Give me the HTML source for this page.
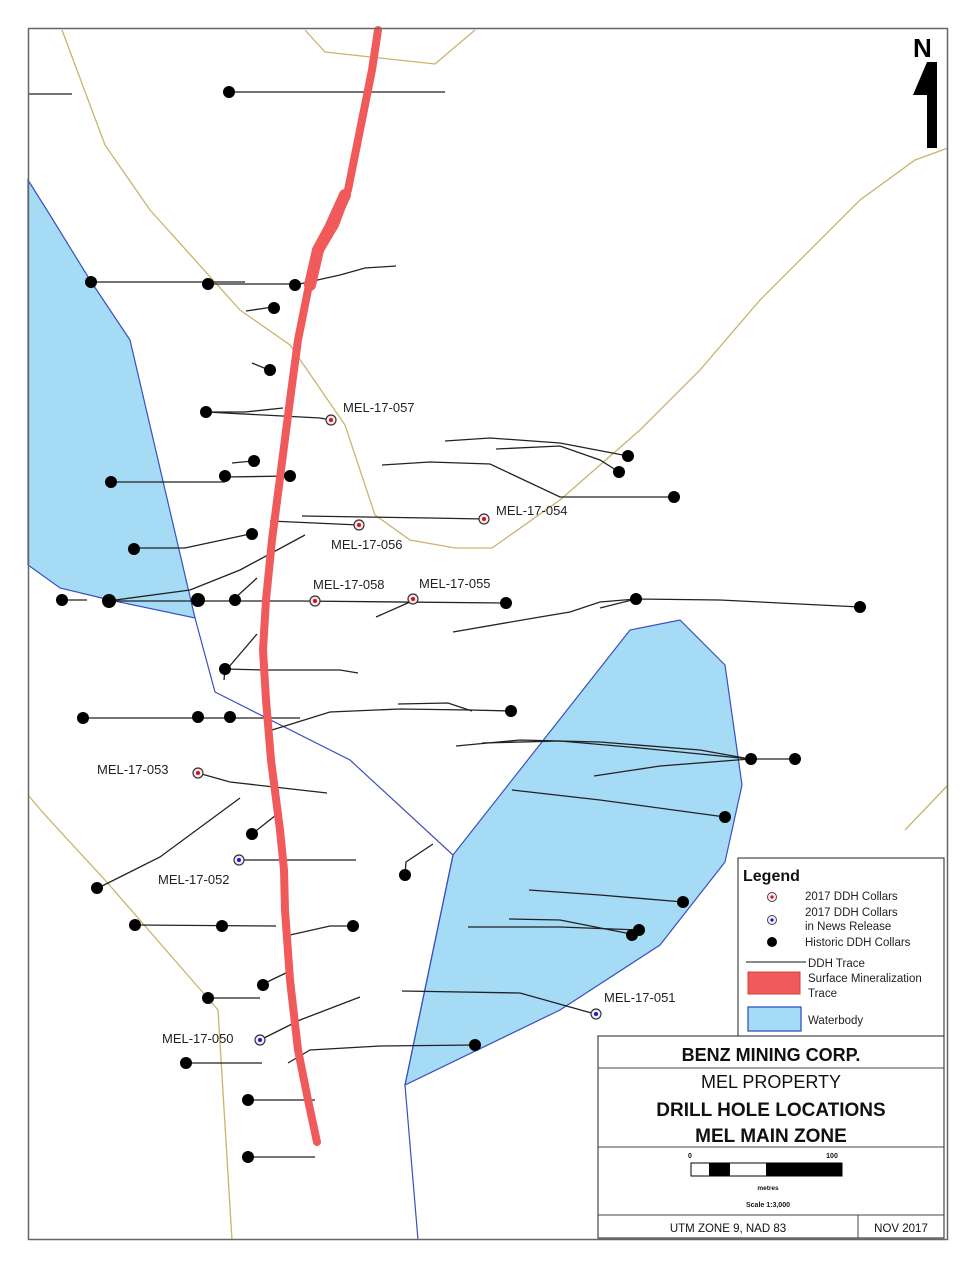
<!DOCTYPE html>
<html><head><meta charset="utf-8"><style>
html,body{margin:0;padding:0;background:#fff;}
svg{display:block;}
text{font-family:"Liberation Sans",sans-serif;}
</style></head><body>
<svg width="980" height="1268" viewBox="0 0 980 1268" xmlns="http://www.w3.org/2000/svg">
<rect width="980" height="1268" fill="#fff"/>
<polygon points="28,180 50,215 90,280 130,340 195,618 110,600 60,588 28,565" fill="#a5dbf5" stroke="#3a4fc0" stroke-width="1.2"/>
<polygon points="453,855 630,630 680,620 725,665 742,785 725,862 660,945 560,1010 405,1085" fill="#a5dbf5" stroke="#3a4fc0" stroke-width="1.2"/>
<polyline points="195,618 215,692 350,760 453,855 405,1085 418,1240" fill="none" stroke="#3a4fc0" stroke-width="1.2"/>
<g fill="none" stroke="#c9b46a" stroke-width="1.3">
<polyline points="62,30 105,145 150,210 240,310 290,345 345,425 375,515 410,540 455,548 492,548 560,500 640,430 700,370 760,300 860,200 915,160 948,148"/>
<polyline points="305,30 325,52 435,64 475,30"/>
<polyline points="28,795 45,815 105,880 205,995 218,1010 232,1240"/>
<polyline points="905,830 948,785"/>
</g>
<g fill="none" stroke="#222" stroke-width="1.3">
<line x1="28" y1="94" x2="72" y2="94"/>
<line x1="229" y1="92" x2="445" y2="92"/>
<polyline points="91,282 245,282"/>
<polyline points="208,284 295,284"/>
<polyline points="295,285 340,275 365,268 396,266"/>
<line x1="246" y1="311" x2="273" y2="307"/>
<line x1="252" y1="363" x2="269" y2="370"/>
<polyline points="206,412 245,412 283,408"/>
<polyline points="206,412 320,418 331,420"/>
<line x1="232" y1="463" x2="253" y2="461"/>
<polyline points="111,482 225,482"/>
<polyline points="225,477 290,476"/>
<polyline points="134,548 185,548 250,534"/>
<polyline points="108,601 190,590 240,570 305,535"/>
<polyline points="108,601 225,601 300,601 505,603"/>
<line x1="62" y1="600" x2="87" y2="600"/>
<polyline points="234,599 257,578"/>
<polyline points="270,521 359,525"/>
<polyline points="302,516 430,518 484,519"/>
<line x1="376" y1="617" x2="410" y2="602"/>
<polyline points="445,441 490,438 560,443 628,456"/>
<polyline points="496,449 560,446 600,460 619,472"/>
<polyline points="382,465 430,462 490,464 560,497 673,497"/>
<polyline points="453,632 540,617 570,612 600,602 636,599 720,600 860,607"/>
<polyline points="600,608 636,599"/>
<polyline points="257,634 228,668"/>
<polyline points="225,669 265,670 340,670 358,673"/>
<line x1="225" y1="669" x2="224" y2="680"/>
<polyline points="83,718 230,718 300,718"/>
<polyline points="272,730 330,712 400,709 470,710 511,711"/>
<polyline points="398,704 448,703 472,711"/>
<polyline points="456,746 520,740 600,742 700,750 750,759 795,759"/>
<polyline points="482,743 560,741 640,748 750,759"/>
<polyline points="594,776 660,766 750,759"/>
<polyline points="198,773 230,782 327,793"/>
<polyline points="98,888 160,857 240,798"/>
<line x1="252" y1="834" x2="276" y2="815"/>
<line x1="240" y1="860" x2="356" y2="860"/>
<polyline points="405,874 406,862 433,844"/>
<polyline points="512,790 600,800 725,817"/>
<polyline points="529,890 600,895 683,902"/>
<polyline points="509,919 560,920 631,934"/>
<polyline points="468,927 560,927 639,930"/>
<line x1="135" y1="925" x2="276" y2="926"/>
<polyline points="290,935 330,926 353,926"/>
<polyline points="263,984 290,971"/>
<line x1="208" y1="998" x2="260" y2="998"/>
<polyline points="260,1040 300,1020 360,997"/>
<polyline points="402,991 520,993 595,1014"/>
<polyline points="288,1063 310,1050 380,1046 475,1045"/>
<line x1="186" y1="1063" x2="262" y2="1063"/>
<line x1="248" y1="1100" x2="315" y2="1100"/>
<line x1="248" y1="1157" x2="315" y2="1157"/>
</g>
<polyline points="378,30 372,70 362,120 348,190 335,225 320,250 308,290 298,340 290,400 281,470 272,540 266,600 263,650 266,700 271,760 280,830 284,870 285,910 290,980 298,1050 308,1100 317,1142" fill="none" stroke="#f05a5a" stroke-width="8" stroke-linecap="round" stroke-linejoin="round"/>
<polyline points="372,70 362,120 348,190" fill="none" stroke="#fff" stroke-width="0"/>
<polyline points="345,195 330,228 318,250 310,285" fill="none" stroke="#f05a5a" stroke-width="12" stroke-linecap="round" stroke-linejoin="round"/>
<g fill="#000">
<circle cx="229" cy="92" r="6"/>
<circle cx="91" cy="282" r="6"/><circle cx="208" cy="284" r="6"/><circle cx="295" cy="285" r="6"/>
<circle cx="274" cy="308" r="6"/><circle cx="270" cy="370" r="6"/>
<circle cx="206" cy="412" r="6"/><circle cx="254" cy="461" r="6"/>
<circle cx="111" cy="482" r="6"/><circle cx="225" cy="476" r="6"/><circle cx="290" cy="476" r="6"/>
<circle cx="252" cy="534" r="6"/><circle cx="134" cy="549" r="6"/>
<circle cx="62" cy="600" r="6"/><circle cx="109" cy="601" r="7"/><circle cx="198" cy="600" r="7"/><circle cx="235" cy="600" r="6"/>
<circle cx="506" cy="603" r="6"/><circle cx="636" cy="599" r="6"/><circle cx="860" cy="607" r="6"/>
<circle cx="628" cy="456" r="6"/><circle cx="619" cy="472" r="6"/><circle cx="674" cy="497" r="6"/>
<circle cx="225" cy="669" r="6"/>
<circle cx="83" cy="718" r="6"/><circle cx="198" cy="717" r="6"/><circle cx="230" cy="717" r="6"/><circle cx="511" cy="711" r="6"/>
<circle cx="751" cy="759" r="6"/><circle cx="795" cy="759" r="6"/>
<circle cx="725" cy="817" r="6"/>
<circle cx="252" cy="834" r="6"/><circle cx="97" cy="888" r="6"/><circle cx="405" cy="875" r="6"/>
<circle cx="683" cy="902" r="6"/><circle cx="639" cy="930" r="6"/><circle cx="632" cy="935" r="6"/>
<circle cx="135" cy="925" r="6"/><circle cx="222" cy="926" r="6"/><circle cx="353" cy="926" r="6"/>
<circle cx="263" cy="985" r="6"/><circle cx="208" cy="998" r="6"/>
<circle cx="475" cy="1045" r="6"/><circle cx="186" cy="1063" r="6"/>
<circle cx="248" cy="1100" r="6"/><circle cx="248" cy="1157" r="6"/>
</g>
<g stroke="#333" stroke-width="1.2" fill="#fbe9e9">
<circle cx="331" cy="420" r="5"/><circle cx="359" cy="525" r="5"/><circle cx="484" cy="519" r="5"/>
<circle cx="315" cy="601" r="5"/><circle cx="413" cy="599" r="5"/><circle cx="198" cy="773" r="5"/>
</g>
<g fill="#d0102a">
<circle cx="331" cy="420" r="2"/><circle cx="359" cy="525" r="2"/><circle cx="484" cy="519" r="2"/>
<circle cx="315" cy="601" r="2"/><circle cx="413" cy="599" r="2"/><circle cx="198" cy="773" r="2"/>
</g>
<g stroke="#333" stroke-width="1.2" fill="#eef">
<circle cx="239" cy="860" r="5"/><circle cx="260" cy="1040" r="5"/><circle cx="596" cy="1014" r="5"/>
</g>
<g fill="#1a1acc">
<circle cx="239" cy="860" r="2"/><circle cx="260" cy="1040" r="2"/><circle cx="596" cy="1014" r="2"/>
</g>
<g font-size="13" fill="#222">
<text x="343" y="412">MEL-17-057</text>
<text x="496" y="515">MEL-17-054</text>
<text x="331" y="549">MEL-17-056</text>
<text x="313" y="589">MEL-17-058</text>
<text x="419" y="588">MEL-17-055</text>
<text x="97" y="774">MEL-17-053</text>
<text x="158" y="884">MEL-17-052</text>
<text x="604" y="1002">MEL-17-051</text>
<text x="162" y="1043">MEL-17-050</text>
</g>
<text x="913" y="57" font-size="26" font-weight="bold" fill="#000">N</text>
<polygon points="927,62 937,62 937,148 927,148 927,95 913,95" fill="#000"/>
<rect x="738" y="858" width="206" height="188" fill="#fff" stroke="#222" stroke-width="1"/>
<text x="743" y="881" font-size="16" font-weight="bold" fill="#111">Legend</text>
<circle cx="772" cy="897" r="4.5" fill="#fbe9e9" stroke="#444"/><circle cx="772" cy="897" r="1.6" fill="#d0102a"/>
<circle cx="772" cy="920" r="4.5" fill="#eef" stroke="#444"/><circle cx="772" cy="920" r="1.6" fill="#1a1acc"/>
<circle cx="772" cy="942" r="5" fill="#000"/>
<g font-size="11.5" fill="#222">
<text x="805" y="900">2017 DDH Collars</text>
<text x="805" y="916">2017 DDH Collars</text>
<text x="805" y="930">in News Release</text>
<text x="805" y="946">Historic DDH Collars</text>
<text x="808" y="967">DDH Trace</text>
<text x="808" y="982">Surface Mineralization</text>
<text x="808" y="997">Trace</text>
<text x="808" y="1024">Waterbody</text>
</g>
<line x1="746" y1="962" x2="806" y2="962" stroke="#444" stroke-width="1.3"/>
<rect x="748" y="972" width="52" height="22" fill="#f05a5a" stroke="#d04040"/>
<rect x="748" y="1007" width="53" height="24" fill="#a5dbf5" stroke="#3a4fc0" stroke-width="1.3"/>
<rect x="598" y="1036" width="346" height="202" fill="#fff" stroke="#222" stroke-width="1"/>
<line x1="598" y1="1068" x2="944" y2="1068" stroke="#444"/>
<line x1="598" y1="1147" x2="944" y2="1147" stroke="#444"/>
<line x1="598" y1="1215" x2="944" y2="1215" stroke="#444"/>
<line x1="858" y1="1215" x2="858" y2="1238" stroke="#444"/>
<g text-anchor="middle" fill="#111">
<text x="771" y="1061" font-size="18" font-weight="bold">BENZ MINING CORP.</text>
<text x="771" y="1088" font-size="18">MEL PROPERTY</text>
<text x="771" y="1116" font-size="19" font-weight="bold">DRILL HOLE LOCATIONS</text>
<text x="771" y="1142" font-size="19" font-weight="bold">MEL MAIN ZONE</text>
<text x="690" y="1158" font-size="7" font-weight="bold">0</text>
<text x="832" y="1158" font-size="7" font-weight="bold">100</text>
<text x="768" y="1190" font-size="6.5" font-weight="bold">metres</text>
<text x="768" y="1207" font-size="7" font-weight="bold">Scale 1:3,000</text>
<text x="728" y="1232" font-size="11.5">UTM ZONE 9, NAD 83</text>
<text x="901" y="1232" font-size="11.5">NOV 2017</text>
</g>
<rect x="691" y="1163" width="151" height="13" fill="#fff" stroke="#000"/>
<rect x="709" y="1163" width="21" height="13" fill="#000"/>
<rect x="766" y="1163" width="76" height="13" fill="#000"/>
<rect x="28.5" y="28.5" width="919" height="1211" fill="none" stroke="#666" stroke-width="1.5"/>
</svg>
</body></html>
